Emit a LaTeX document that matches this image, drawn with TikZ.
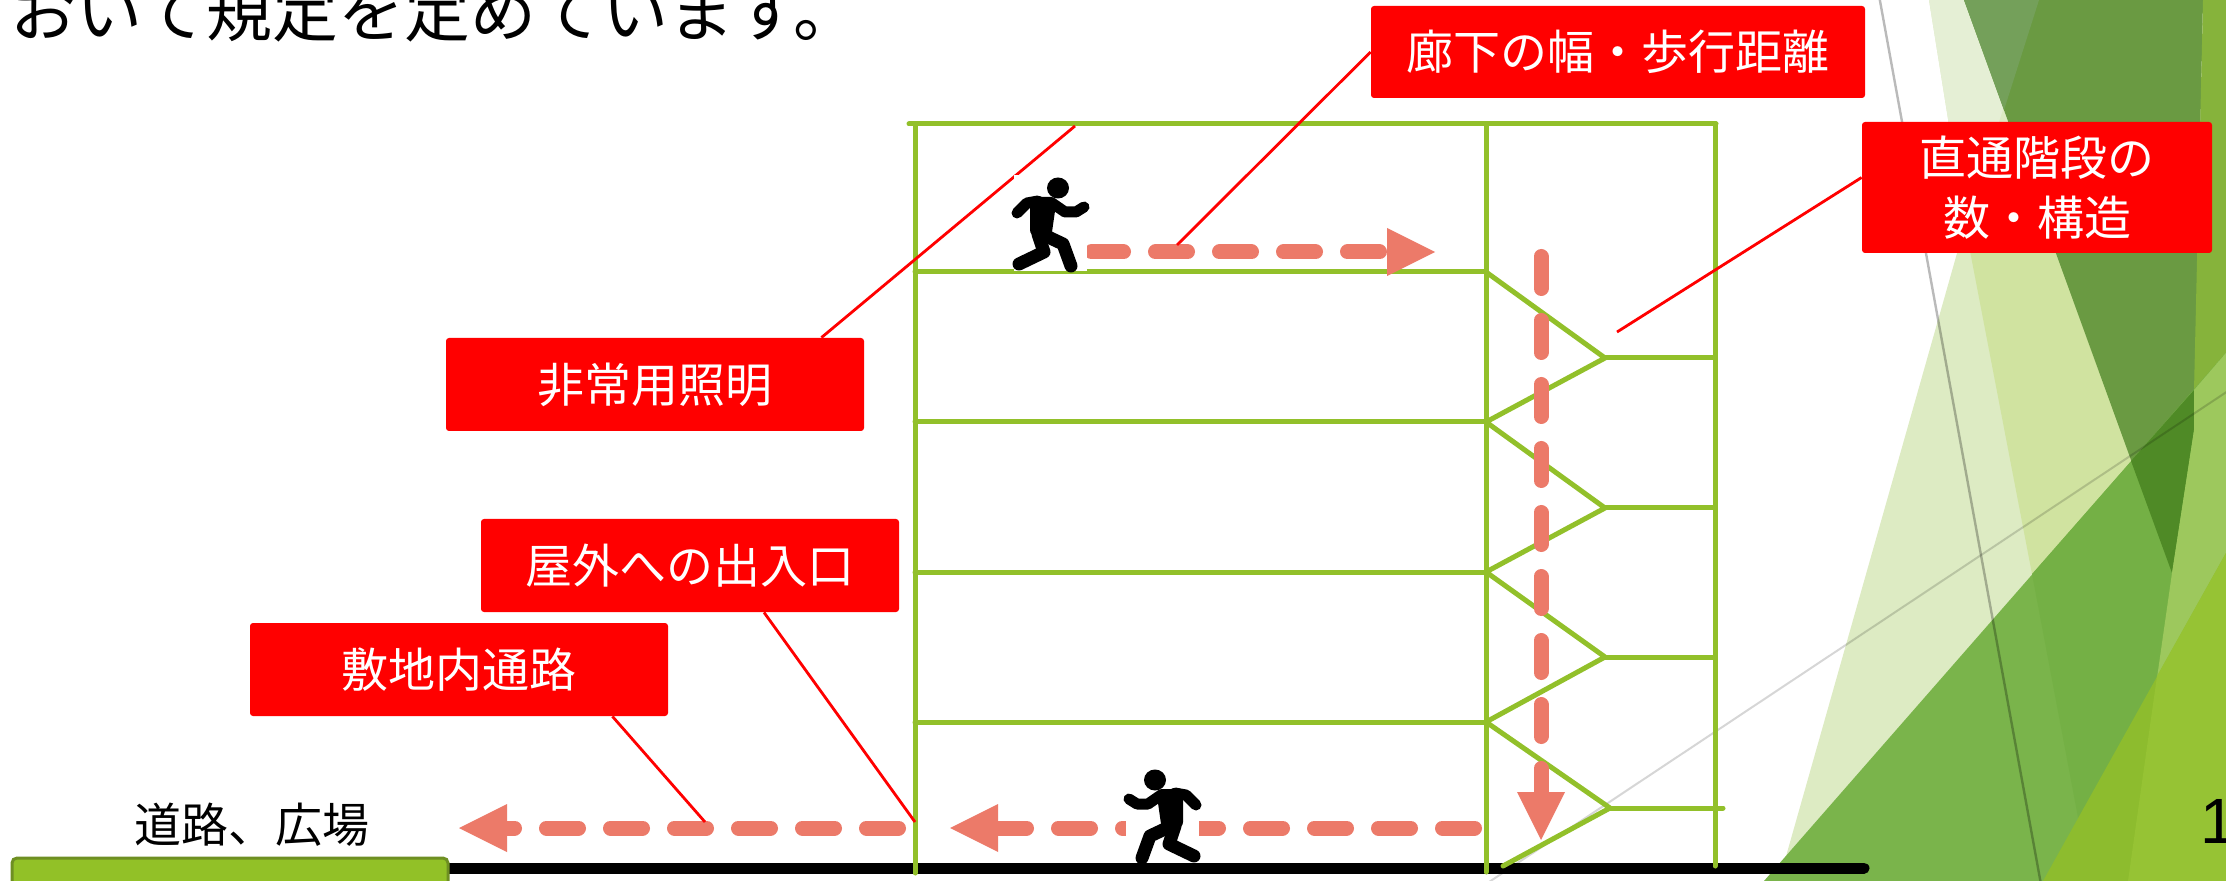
\documentclass[tikz,border=0pt]{standalone}
\usepackage{fontspec}
\setmainfont{Liberation Sans}
\newfontfamily\jpfont{Noto Sans CJK JP}
\usetikzlibrary{arrows.meta}

% palette
\definecolor{bldgreen}{HTML}{92C02A}
\definecolor{flowsalmon}{HTML}{EC7A69}
\definecolor{labelred}{HTML}{FF0000}
\definecolor{rectgreen}{HTML}{92C127}
\definecolor{rectolive}{HTML}{6E8F22}
% facet background
\definecolor{paleA}{HTML}{E5EFD5}
\definecolor{paleB}{HTML}{DDEBC3}
\definecolor{paleC}{HTML}{D0E3A0}
\definecolor{facetG}{HTML}{6A9A42}
\definecolor{facetGA}{HTML}{74A05A}
\definecolor{facetH}{HTML}{86B33B}
\definecolor{facetD}{HTML}{7AB44B}
\definecolor{facetDY}{HTML}{74B045}
\definecolor{facetGD}{HTML}{4F8A26}
\definecolor{facetHD}{HTML}{9DC85D}
\definecolor{facetE}{HTML}{8DBC2E}
\definecolor{facetEH}{HTML}{96C334}

\tikzset{
  bldline/.style={draw=bldgreen, line width=2.5pt, line cap=round, line join=round},
  flowdash/.style={draw=flowsalmon, line width=7.5pt, line cap=round,
    dash pattern=on 16pt off 16pt,
    -{Triangle[length=24pt,width=24pt,line width=0pt]}},
  leader/.style={draw=labelred, line width=1.4pt},
  redtag/.style={fill=labelred, text=white, rounded corners=1.5pt, inner sep=0pt,
    align=center, font=\jpfont\fontsize{23.5pt}{30pt}\selectfont},
  facetline/.style={draw=black, line width=1.2pt, draw opacity=0.27},
  faintline/.style={draw=black, line width=1pt, draw opacity=0.16},
  limb/.style={draw=black, line cap=round, line join=round},
  runner/.pic={
    \fill[white] (-36,-97) rectangle (37,-1);
    \fill[black] (8,-84) ellipse [x radius=11, y radius=10.5];
    \fill[black, rounded corners=3pt] (-20,-75) -- (7,-75) -- (1,-33) -- (-20,-36) -- cycle;
    \draw[limb, line width=5.5pt] (-12,-71) -- (-23,-69) -- (-33,-59);
    \draw[limb, line width=5.5pt] (2,-69) -- (15,-60) -- (26,-60) -- (34,-65);
    \draw[limb, line width=6.5pt] (-12,-38) -- (-6,-20) -- (-31,-8);
    \draw[limb, line width=6.5pt] (-4,-36) -- (13,-28) -- (21,-6);
  },
}

\begin{document}
\begin{tikzpicture}[x=0.5pt,y=-0.5pt]
\useasboundingbox (0,0) rectangle (2226,881);
\fill[white] (0,0) rectangle (2226,881);

% ---- facet decoration on the right
\fill[paleB] (1929,0) -- (2039,0) -- (2004,110) -- (2135,470) -- (2135,881) -- (1779,881) -- (1965,225) -- cycle;
\fill[paleA] (1929,0) -- (2039,0) -- (1965,225) -- cycle;
\fill[paleC] (1965,225) -- (2046,225) -- (2135,470) -- (2032,574) -- cycle;
\fill[facetG] (1964,0) -- (2203,0) -- (2194,430) -- (2172,573) -- cycle;
\fill[facetGA] (1964,0) -- (2039,0) -- (2004,110) -- cycle;
\fill[facetH] (2203,0) -- (2226,0) -- (2226,353) -- (2194,390) -- cycle;
\fill[facetD] (2226,353) -- (2226,881) -- (1764,881) -- cycle;
\fill[facetDY] (2032,574) -- (2226,353) -- (2226,881) -- (2090,881) -- cycle;
\fill[facetGD] (2131,461) -- (2194,390) -- (2194,430) -- (2172,573) -- cycle;
\fill[facetHD] (2194,390) -- (2226,353) -- (2226,881) -- (2128,881) -- (2172,573) -- (2194,430) -- cycle;
\fill[facetE] (2226,553) -- (2226,881) -- (2043,881) -- cycle;
\fill[facetEH] (2226,553) -- (2226,881) -- (2128,881) -- (2157,676) -- cycle;
\draw[facetline] (1878,-10) -- (2042,890);
\draw[faintline] (1480,888) -- (2240,383);

% ---- ground
\draw[line width=5.5pt, line cap=round] (440,868) -- (1864,868);
\draw[draw=rectolive, fill=rectgreen, line width=1.5pt, rounded corners=2.5pt] (12,858) rectangle (448,900);

% ---- building section
\draw[bldline] (909,124) -- (1716,124);
\draw[bldline] (915,124) -- (915,873);
\draw[bldline] (1486,124) -- (1486,872);
\draw[bldline] (1715,124) -- (1715,866);
\foreach \fy in {272,422,572,722}
  \draw[bldline] (915,\fy) -- (1486,\fy);
\draw[bldline] (1486,272) -- (1605,358) -- (1486,422) -- (1605,508) -- (1486,572)
  -- (1605,657) -- (1486,722) -- (1610,808) -- (1503,866);
\foreach \ly in {358,508,657}
  \draw[bldline] (1605,\ly) -- (1715,\ly);
\draw[bldline] (1610,808) -- (1723,808);

% ---- evacuation route
\coordinate (corrStart) at (1091.5,252);
\coordinate (corrEnd) at (1435,252);
\coordinate (stairTop) at (1541,256.5);
\coordinate (stairFoot) at (1541,840);
\coordinate (exitStart) at (1474.5,828);
\coordinate (exitDoor) at (950,828);
\coordinate (yardStart) at (898.5,828);
\coordinate (roadEnd) at (459,828);
\draw[flowdash] (corrStart) -- (corrEnd);
\draw[flowdash] (stairTop) -- (stairFoot);
\draw[flowdash] (exitStart) -- (exitDoor);
\draw[flowdash] (yardStart) -- (roadEnd);

% ---- labels
\node[redtag, minimum width=247pt, minimum height=46pt] (rouka) at (1618,52) {廊下の幅・歩行距離};
\node[redtag, minimum width=175pt, minimum height=65.5pt] (chokutsu) at (2037,187.5) {直通階段の\\数・構造};
\node[redtag, minimum width=209pt, minimum height=46.5pt] (hijo) at (655,384.5) {非常用照明};
\node[redtag, minimum width=209pt, minimum height=46.5pt] (okugai) at (690,565.5) {屋外への出入口};
\node[redtag, minimum width=209pt, minimum height=46.5pt] (shikichi) at (459,669.5) {敷地内通路};

% ---- leaders
\coordinate (roukaEnd) at (1177,245);
\coordinate (chokutsuEnd) at (1617,332);
\coordinate (hijoEnd) at (1075,126);
\coordinate (okugaiEnd) at (915,822);
\coordinate (shikichiEnd) at (705,822);
\draw[leader] (rouka.west) -- (roukaEnd);
\draw[leader] ([yshift=5pt]chokutsu.west) -- (chokutsuEnd);
\draw[leader] ([xshift=-21.5pt]hijo.north east) -- (hijoEnd);
\draw[leader] ([xshift=37pt]okugai.south) -- (okugaiEnd);
\draw[leader] ([xshift=-28pt]shikichi.south east) -- (shikichiEnd);

% ---- runners
\pic at (1050,272) {runner};
\pic[xscale=-1] at (1163,864) {runner};

% ---- plain text
\node[anchor=base west, inner sep=0pt, font=\jpfont\fontsize{33pt}{33pt}\selectfont] (intro) at (10,37) {おいて規定を定めています。};
\node[inner sep=0pt, font=\jpfont\fontsize{23.5pt}{28pt}\selectfont] (road) at (252,825) {道路、広場};
\node[anchor=base west, inner sep=0pt, font=\fontsize{32pt}{32pt}\selectfont] (pagenum) at (2200,843) {1};
\end{tikzpicture}
\end{document}
